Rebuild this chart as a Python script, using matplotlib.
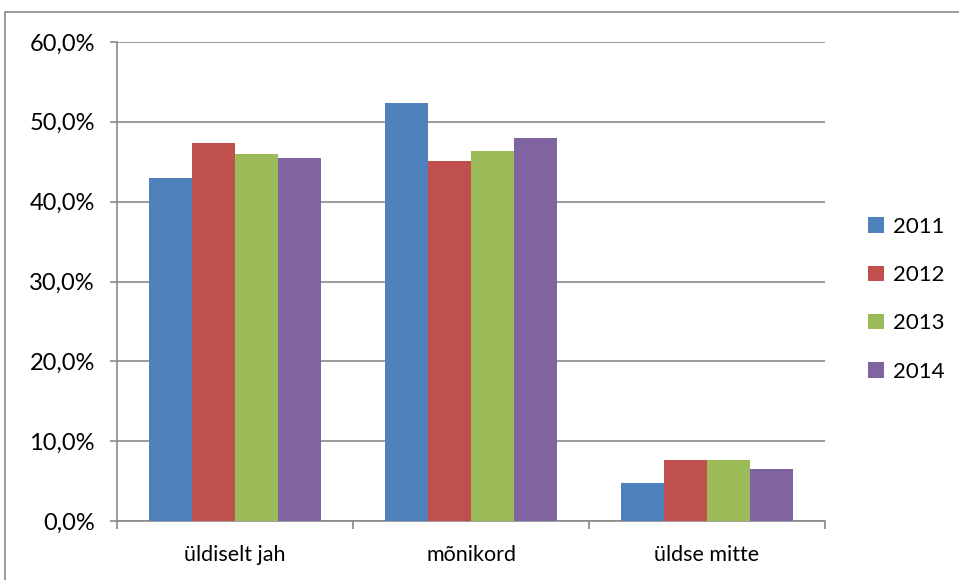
import numpy as np
import matplotlib.pyplot as plt
from matplotlib.patches import Rectangle

categories = ['üldiselt jah', 'mõnikord', 'üldse mitte']
years = ['2011', '2012', '2013', '2014']
v2011 = [43.0, 52.4, 4.7]
v2012 = [47.3, 45.1, 7.6]
v2013 = [46.0, 46.4, 7.6]
v2014 = [45.5, 48.0, 6.5]
colors = ['#4F81BD', '#C0504D', '#9BBB59', '#8064A2']

plt.rcParams['font.family'] = ['Lato', 'DejaVu Sans']

W, H = 959, 580
fig = plt.figure(figsize=(W / 100, H / 100), dpi=100)
ax = fig.add_axes([117 / W, 1 - 521 / H, (825 - 117) / W, (521 - 42) / H])

# rahmen ümber diagrammi
fig.patches.append(Rectangle((5 / W, -0.1), 1.2, 1.1 - 12 / H, transform=fig.transFigure,
                             fill=False, edgecolor='#8a8a8a', linewidth=1.2))

x = np.arange(len(categories))
width = 0.73 / 4
for i, (vals, c, lab) in enumerate(zip([v2011, v2012, v2013, v2014], colors, years)):
    ax.bar(x - 0.365 + width * (i + 0.5), vals, width, color=c, label=lab, zorder=3)

ax.set_xlim(-0.5, 2.5)
ax.set_ylim(0, 60)
ax.set_yticks(np.arange(0, 61, 10))
ax.set_yticklabels([f'{v:.1f}%'.replace('.', ',') for v in np.arange(0, 61, 10)], fontsize=17)
ax.yaxis.grid(True, color='#8a8a8a', linewidth=1.2, zorder=0)

# kategooriad, tick märgid gruppide vahel
ax.set_xticks([-0.5, 0.5, 1.5, 2.5])
ax.set_xticklabels([])
ax.set_xticks(x, minor=True)
ax.set_xticklabels(categories, minor=True, fontsize=15.5)
ax.tick_params(axis='x', which='minor', length=0, pad=17)
ax.tick_params(axis='x', which='major', length=6, color='#8a8a8a', width=1.2)
ax.tick_params(axis='y', length=5, color='#8a8a8a', width=1.2, pad=11)

for s in ['top', 'right']:
    ax.spines[s].set_visible(False)
for s in ['left', 'bottom']:
    ax.spines[s].set_color('#8a8a8a')
    ax.spines[s].set_linewidth(1.2)

ax.legend(loc='center left', bbox_to_anchor=(1.033, 0.463), frameon=False, fontsize=16,
          handlelength=0.7, handleheight=0.7, handletextpad=0.4, labelspacing=1.27)

fig.savefig('out.png', dpi=100)
